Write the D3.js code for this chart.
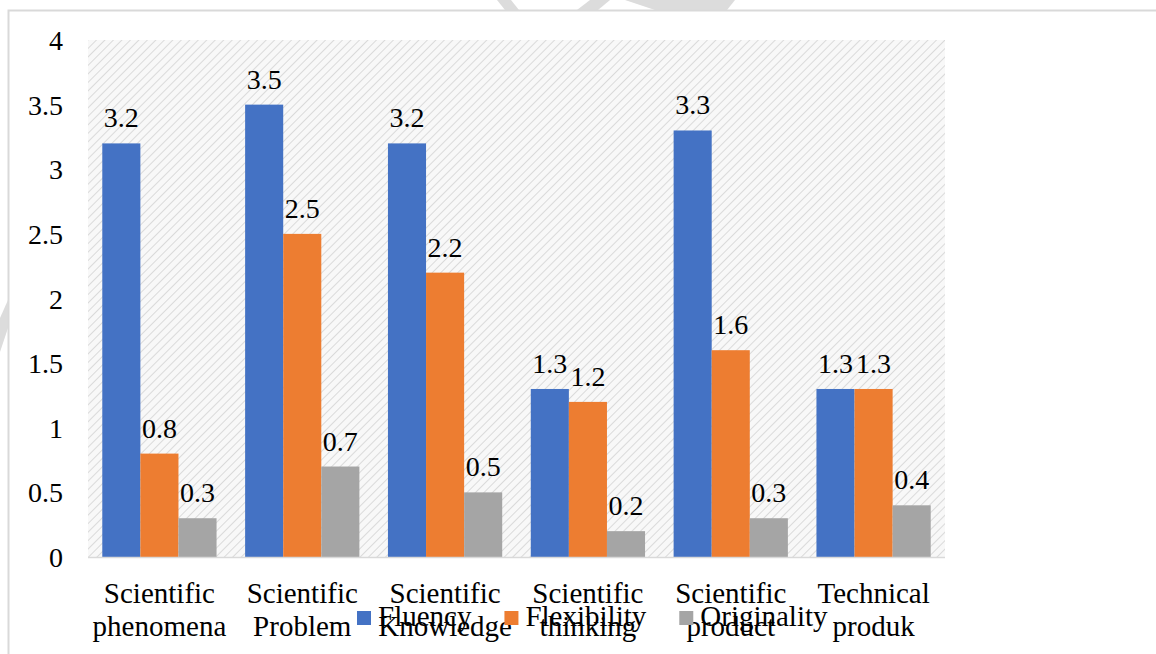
<!DOCTYPE html>
<html>
<head>
<meta charset="utf-8">
<script src="https://cdn.jsdelivr.net/npm/d3@7/dist/d3.min.js"></script>
<style>
  html, body { margin: 0; padding: 0; background: #fff; }
  svg { display: block; }
</style>
</head>
<body>
<svg id="chart" width="1156" height="654"></svg>
<script>
// Categories (two-line labels) and series
const categories = [
  ["Scientific", "phenomena"],
  ["Scientific", "Problem"],
  ["Scientific", "Knowledge"],
  ["Scientific", "thinking"],
  ["Scientific", "product"],
  ["Technical", "produk"]
];
const seriesNames = ["Fluency", "Flexibility", "Originality"];
const fluency     = [3.2, 3.5, 3.2, 1.3, 3.3, 1.3];
const flexibility = [0.8, 2.5, 2.2, 1.2, 1.6, 1.3];
const originality = [0.3, 0.7, 0.5, 0.2, 0.3, 0.4];
const yTicks = [0, 0.5, 1, 1.5, 2, 2.5, 3, 3.5, 4];
const seriesColors = ["#4472C4", "#ED7D31", "#A5A5A5"];

const seriesValues = [fluency, flexibility, originality];

const svg = d3.select("#chart");
const serif = "Liberation Serif, Times New Roman, serif";
const numSize = 28;
const labelSize = 29;

// Faint background marks outside the chart frame
const marks = [
  [[497,0],[511,0],[519,10],[505,10]],
  [[590,0],[610,0],[598,10],[577,10]],
  [[625,0],[735,0],[727,10],[655,10]],
  [[0,318],[8,300],[8,328],[0,352]]
];
svg.selectAll("polygon.mark").data(marks).join("polygon")
  .attr("class", "mark")
  .attr("points", d => d.map(p => p.join(",")).join(" "))
  .attr("fill", "#dcdcdc");

// Chart frame (extends past the right and bottom edges)
svg.append("rect")
  .attr("x", 8.5).attr("y", 10.5)
  .attr("width", 1300).attr("height", 800)
  .attr("fill", "#fff")
  .attr("stroke", "#d9d9d9")
  .attr("stroke-width", 2);

// Plot area
const plot = { left: 88, right: 945, top: 40, bottom: 557 };

const x0 = d3.scaleBand()
  .domain(d3.range(categories.length))
  .range([plot.left, plot.right])
  .paddingInner(0.2)
  .paddingOuter(0.1);

const x1 = d3.scaleBand()
  .domain(d3.range(seriesNames.length))
  .range([0, x0.bandwidth()])
  .padding(0);

const y = d3.scaleLinear().domain([0, 4]).range([plot.bottom, plot.top]);

// Diagonal hatch fill for the plot area
const defs = svg.append("defs");
const pat = defs.append("pattern")
  .attr("id", "hatch")
  .attr("patternUnits", "userSpaceOnUse")
  .attr("width", 6).attr("height", 6)
  .attr("patternTransform", "rotate(45)");
pat.append("rect").attr("width", 6).attr("height", 6).attr("fill", "#f8f8f8");
pat.append("line")
  .attr("x1", 0).attr("y1", 0).attr("x2", 0).attr("y2", 6)
  .attr("stroke", "#dadada").attr("stroke-width", 2);

svg.append("rect")
  .attr("x", plot.left).attr("y", plot.top)
  .attr("width", plot.right - plot.left)
  .attr("height", plot.bottom - plot.top)
  .attr("fill", "url(#hatch)");

// Y axis labels
const yAxis = d3.axisLeft(y).tickValues(yTicks).tickSize(0).tickPadding(0)
  .tickFormat(d3.format("~g"));
const gy = svg.append("g").attr("transform", `translate(63,0)`).call(yAxis);
gy.attr("font-family", serif).attr("font-size", numSize);
gy.select(".domain").remove();
gy.selectAll("text")
  .attr("fill", "#000")
  .attr("dy", "0.34em");

// Bars
const groups = svg.append("g").selectAll("g")
  .data(categories.map((c, i) => i))
  .join("g")
  .attr("transform", i => `translate(${x0(i)},0)`);

groups.selectAll("rect")
  .data(i => seriesValues.map((vals, s) => ({ s, v: vals[i] })))
  .join("rect")
  .attr("x", d => x1(d.s))
  .attr("width", x1.bandwidth())
  .attr("y", d => y(d.v))
  .attr("height", d => y(0) - y(d.v))
  .attr("fill", d => seriesColors[d.s]);

// Value labels
groups.selectAll("text")
  .data(i => seriesValues.map((vals, s) => ({ s, v: vals[i] })))
  .join("text")
  .attr("x", d => x1(d.s) + x1.bandwidth() / 2)
  .attr("y", d => y(d.v) - 16)
  .attr("text-anchor", "middle")
  .attr("font-family", serif)
  .attr("font-size", numSize)
  .text(d => d3.format("~g")(d.v));

// X axis line
svg.append("line")
  .attr("x1", plot.left).attr("x2", plot.right)
  .attr("y1", plot.bottom + 0.5).attr("y2", plot.bottom + 0.5)
  .attr("stroke", "#d9d9d9").attr("stroke-width", 1.5);

// Category labels
const catG = svg.append("g").selectAll("text")
  .data(categories)
  .join("text")
  .attr("text-anchor", "middle")
  .attr("font-family", serif)
  .attr("font-size", labelSize)
  .attr("transform", (d, i) => `translate(${x0(i) + x0.bandwidth() / 2},603)`);
catG.selectAll("tspan")
  .data(d => d)
  .join("tspan")
  .attr("x", 0)
  .attr("dy", (d, j) => j === 0 ? 0 : 33)
  .text(d => d);

// Legend
const legend = svg.append("g");
let lx = 357;
seriesNames.forEach((name, s) => {
  legend.append("rect")
    .attr("x", lx).attr("y", 611)
    .attr("width", 14).attr("height", 14)
    .attr("fill", seriesColors[s]);
  const t = legend.append("text")
    .attr("x", lx + 21).attr("y", 626)
    .attr("font-family", serif)
    .attr("font-size", labelSize)
    .text(name);
  lx += 21 + t.node().getComputedTextLength() + 33;
});
</script>
</body>
</html>
